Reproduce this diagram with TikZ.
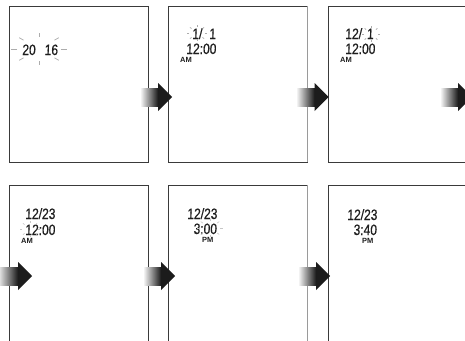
\documentclass[tikz,border=0pt]{standalone}
\usepackage{fontspec}
\setmainfont{Liberation Sans}
\newfontfamily\lcdfont[FakeStretch=0.8,FakeSlant=0.04,FakeBold=0.6]{Liberation Sans}
\usetikzlibrary{calc}
\definecolor{panelc}{HTML}{3A3A3A}
\definecolor{lightedge}{HTML}{9A9A9A}
\definecolor{arrowc}{HTML}{1C1C1C}
\definecolor{lcdc}{HTML}{1E1E1E}
\tikzset{
  panel/.style={draw=panelc, line width=0.9pt, fill=none, inner sep=0pt, outer sep=0pt, anchor=north west},
  lightside/.style={draw=lightedge, line width=0.9pt},
  lcd/.style={font={\lcdfont\fontsize{15pt}{15pt}\selectfont}, inner sep=0pt, text=lcdc},
  ampm/.style={font={\bfseries\fontsize{7.5pt}{7.5pt}\selectfont}, inner sep=0pt, anchor=base west, text=lcdc},
  ray/.style={draw=gray!65, line width=0.7pt},
  fray/.style={draw=gray!45, line width=0.6pt},
}
\newcommand\blockarrow[2]{%
  \shade[left color=black!5, right color=black!92] ($(#1)+(0,-9)$) rectangle ($(#2)+(-13.5,9)$);
  \fill[arrowc] ($(#2)+(-13.8,-14)$) -- (#2) -- ($(#2)+(-13.8,14)$) -- cycle;
}
\newcommand\blinkrays[5]{%
  \foreach \a in {0,45,...,315}{
    \draw[#5] ({#1+0.78*#3*cos(\a)},{#2+0.78*#4*sin(\a)}) -- ({#1+#3*cos(\a)},{#2+#4*sin(\a)});
  }
}
\begin{document}
\begin{tikzpicture}[x=1pt,y=-1pt]
\fill[white] (0,0) rectangle (465,340);
\useasboundingbox (0,0) rectangle (465,340);

% panels
\node[panel, minimum width=139pt, minimum height=156pt] (p1) at (9,6) {};
\node[panel, minimum width=139pt, minimum height=156pt] (p2) at (168,6) {};
\node[panel, minimum width=139pt, minimum height=156pt] (p3) at (328,6) {};
\node[panel, minimum width=139pt, minimum height=170pt] (p4) at (9,185) {};
\node[panel, minimum width=139pt, minimum height=170pt] (p5) at (168,185) {};
\node[panel, minimum width=139pt, minimum height=170pt] (p6) at (328,185) {};
\draw[lightside] (p2.north east) -- (p2.south east);
\draw[lightside] (p5.north east) -- (p5.south east);

% panel 1
\node[lcd, anchor=base west] (t1) at (22,55) {20\hspace{9pt}16};
\blinkrays{39}{49}{28}{16}{ray}

% panel 2
\node[lcd, anchor=base west] (t2a) at (192,39) {1/\hspace{7pt}1};
\blinkrays{197}{33}{10}{8}{ray}
\node[lcd, anchor=base west] (t2b) at (186,54) {12:00};
\node[ampm] (t2c) at (180,62) {AM};

% panel 3
\node[lcd, anchor=base west] (t3a) at (345,39) {12/\hspace{5pt}1};
\blinkrays{371}{34}{9}{8}{ray}
\node[lcd, anchor=base west] (t3b) at (345,54) {12:00};
\node[ampm] (t3c) at (340,62) {AM};

% panel 4
\node[lcd, anchor=base west] (t4a) at (25,219) {12/23};
\node[lcd, anchor=base west] (t4b) at (25,235) {12:00};
\blinkrays{30}{229}{10}{8}{fray}
\node[ampm] (t4c) at (21,243) {AM};

% panel 5
\node[lcd, anchor=base west] (t5a) at (187,219) {12/23};
\node[lcd, anchor=base east] (t5b) at (217,234) {3:00};
\blinkrays{210}{228}{13}{9}{fray}
\node[ampm] (t5c) at (202,242) {PM};

% panel 6
\node[lcd, anchor=base west] (t6a) at (347,220) {12/23};
\node[lcd, anchor=base east] (t6b) at (377,235) {3:40};
\node[ampm] (t6c) at (362,243) {PM};

% arrows
\coordinate (a1s) at (141,97);  \coordinate (a1t) at (172,97);
\coordinate (a2s) at (297,97);  \coordinate (a2t) at (328.5,97);
\coordinate (a3s) at (441,97);  \coordinate (a3t) at (472,97);
\coordinate (a4s) at (-2,276);  \coordinate (a4t) at (32,276);
\coordinate (a5s) at (144,276); \coordinate (a5t) at (175,276);
\coordinate (a6s) at (299,276); \coordinate (a6t) at (330,276);
\blockarrow{a1s}{a1t}
\blockarrow{a2s}{a2t}
\blockarrow{a3s}{a3t}
\blockarrow{a4s}{a4t}
\blockarrow{a5s}{a5t}
\blockarrow{a6s}{a6t}
\end{tikzpicture}
\end{document}
